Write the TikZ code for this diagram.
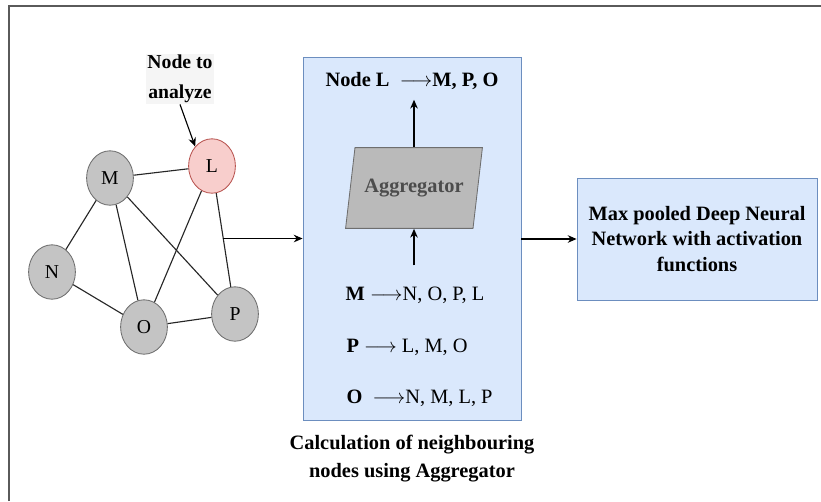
\documentclass[tikz,border=0pt]{standalone}
\usepackage{fontspec}
\setmainfont{Liberation Serif}[BoldFont={Liberation Serif Bold}]
\usetikzlibrary{arrows.meta,positioning,shapes.geometric,calc}
\definecolor{cBox}     {RGB}{218,232,252}
\definecolor{cBoxLine} {RGB}{108,142,191}
\definecolor{cVert}    {RGB}{196,196,196}
\definecolor{cVertLine}{RGB}{110,110,110}
\definecolor{cHot}     {RGB}{248,206,204}
\definecolor{cHotLine} {RGB}{184, 84, 80}
\definecolor{cFrame}   {RGB}{ 90, 90, 90}

\begin{document}
\begin{tikzpicture}[
  x=0.025cm, y=-0.025cm,
  %% -- graph vertex ---------------------------------------------------------
  V/.style={
    ellipse, draw=cVertLine, fill=cVert, line width=0.6pt,
    minimum width=1.17cm, minimum height=1.36cm, inner sep=0pt,
    font=\fontsize{14}{16}\selectfont
  },
  %% -- light blue block -----------------------------------------------------
  B/.style={
    draw=cBoxLine, fill=cBox, line width=0.6pt
  },
  %% -- graph edge -----------------------------------------------------------
  E/.style={line width=0.8pt, draw=black!85},
  %% -- arrow ----------------------------------------------------------------
  A/.style={-{Stealth[length=2.2mm,width=1.9mm]}, line width=0.8pt},
  %% -- text -----------------------------------------------------------------
  T/.style={font=\fontsize{14.5}{18.5}\selectfont, inner sep=1pt},
]

\useasboundingbox (0,0) rectangle (821,501);

%% frame
\draw[cFrame, line width=1.3pt] (9,501) -- (9,6) -- (821,6);

%% =========================================================================
%%  GRAPH
%% =========================================================================

\node[V] (M) at (110,178) {M};
\node[V, draw=cHotLine, fill=cHot] (L) at (212,166) {L};
\node[V] (N) at (52,272) {N};
\node[V] (O) at (144,327) {O};
\node[V] (P) at (235,314) {P};

\draw[E] (M) -- (L);
\draw[E] (M) -- (N);
\draw[E] (M) -- (O);
\draw[E] (M) -- (P);
\draw[E] (L) -- (O);
\draw[E] (L) -- (P);
\draw[E] (N) -- (O);
\draw[E] (O) -- (P);

\node[T, font=\fontsize{14}{21}\selectfont\bfseries, fill=black!4,
      align=center] (note) at (180,79) {Node to\\analyze};
\draw[A] (note.south) -- (L.north west);

%% =========================================================================
%%  AGGREGATION BLOCK
%% =========================================================================

\node[B, minimum width=5.45cm, minimum height=9.07cm] (calc) at (412,238.5) {};

\node[T, font=\fontsize{14.5}{18.5}\selectfont\bfseries] (top) at (412,81)
  {Node L\ \ $\longrightarrow$M, P, O};

\node[trapezium, trapezium left angle=71, trapezium right angle=109,
      trapezium stretches body,
      draw=cVertLine, fill=cVert!95!black, line width=0.6pt,
      minimum width=3.42cm, minimum height=2.02cm,
      font=\fontsize{14.5}{16}\selectfont\bfseries, text=black!70]
  (agg) at (414,188) {Aggregator};

\node[T, anchor=west] (lm) at (344,295) {\textbf{M} $\longrightarrow$N, O, P, L};
\node[T, anchor=west] (lp) at (345,347) {\textbf{P} $\longrightarrow$ L, M, O};
\node[T, anchor=west] (lo) at (345,398) {\textbf{O} \ $\longrightarrow$N, M, L, P};

\draw[A, shorten >=6pt] (agg.north) -- (agg.north |- top.south);
\draw[A, shorten <=14pt] (agg.south |- lm.north) -- (agg.south);

\node[T, font=\fontsize{14.5}{20}\selectfont\bfseries, align=center,
      below=9pt of calc] (cap)
  {Calculation of neighbouring\\nodes using Aggregator};

%% =========================================================================
%%  OUTPUT BLOCK
%% =========================================================================

\node[B, T, font=\fontsize{14.5}{18}\selectfont\bfseries, align=center,
      minimum width=6cm, minimum height=3.05cm] (dnn) at (697,239)
  {Max pooled Deep Neural\\Network with activation\\functions};

%% =========================================================================
%%  ARROWS BETWEEN BLOCKS
%% =========================================================================

\coordinate (gout) at ($(L)!0.49!(P)$);
\draw[A] (gout) -- (gout -| calc.west);
\draw[A] (calc.east |- dnn.west) -- (dnn.west);

\end{tikzpicture}
\end{document}
